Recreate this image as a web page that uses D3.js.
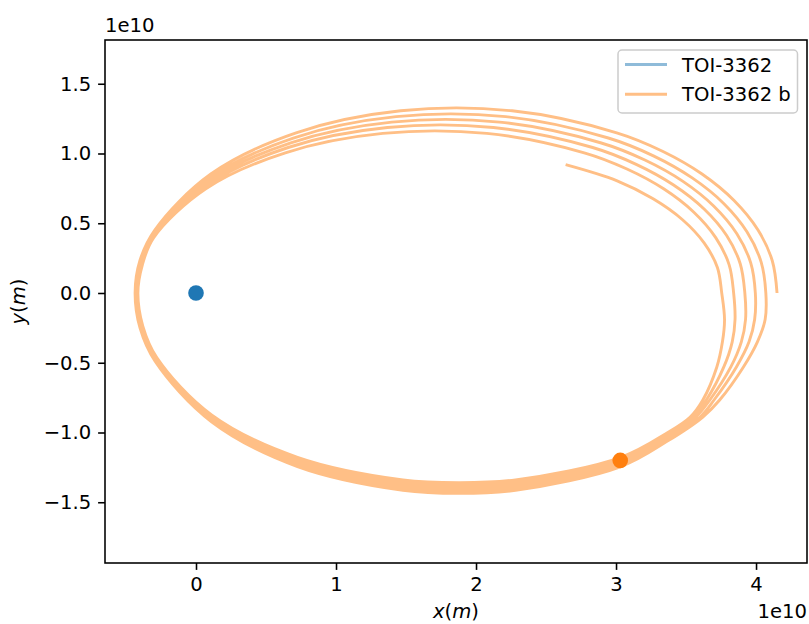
<!DOCTYPE html>
<html>
<head>
<meta charset="utf-8">
<script src="https://cdn.jsdelivr.net/npm/d3@7"></script>
<style>
  body { margin: 0; background: #ffffff; }
  svg { display: block; }
  text { font-family: "DejaVu Sans", sans-serif; }
</style>
</head>
<body>
<svg id="chart" width="809" height="624"></svg>
<script>
// ---- data (units of 1e10 m) ----
const xTicks = [0, 1, 2, 3, 4];
const yTicks = [-1.5, -1.0, -0.5, 0.0, 0.5, 1.0, 1.5];
const seriesNames = ["TOI-3362", "TOI-3362 b"];

const starPos = [0, 0];
const planetPos = [3.03, -1.2];

// trajectory of TOI-3362 b, traced arc by arc
const upper0 = [[4.15,0],[4.116,0.231],[4.013,0.453],[3.843,0.663],[3.614,0.853],[3.332,1.016],[3.005,1.148],[2.258,1.306],[1.462,1.306],[0.715,1.148],[0.106,0.853],[-0.293,0.453],[-0.401,0.231],[-0.435,0]];
const lower0 = [[-0.40,-0.25],[-0.291,-0.491],[0.111,-0.923],[0.725,-1.244],[1.478,-1.414],[1.88,-1.436],[2.282,-1.414],[3.035,-1.244],[3.37,-1.06],[3.62,-0.889],[3.74,-0.767],[3.91,-0.53],[4.01,-0.35],[4.065,-0.19]];
const upper1 = [[4.07,0],[4.036,0.223],[3.935,0.439],[3.769,0.642],[3.544,0.825],[3.267,0.983],[2.945,1.111],[2.212,1.264],[1.429,1.264],[0.695,1.111],[0.097,0.825],[-0.295,0.439],[-0.396,0.223],[-0.43,0]];
const lower1 = [[-0.395,-0.247],[-0.291,-0.485],[0.111,-0.911],[0.725,-1.227],[1.478,-1.396],[1.88,-1.417],[2.282,-1.396],[3.035,-1.227],[3.37,-1.045],[3.60,-0.889],[3.70,-0.767],[3.86,-0.53],[3.95,-0.35],[3.99,-0.19]];
const upper2 = [[3.995,0],[3.962,0.216],[3.863,0.425],[3.699,0.622],[3.478,0.8],[3.206,0.953],[2.889,1.077],[2.168,1.225],[1.398,1.225],[0.677,1.077],[0.088,0.8],[-0.298,0.425],[-0.393,0.216],[-0.425,0]];
const lower2 = [[-0.39,-0.243],[-0.287,-0.478],[0.111,-0.899],[0.725,-1.211],[1.478,-1.377],[1.88,-1.398],[2.282,-1.377],[3.035,-1.211],[3.37,-1.03],[3.57,-0.889],[3.67,-0.767],[3.82,-0.53],[3.895,-0.35],[3.925,-0.19]];
const upper3 = [[3.92,0],[3.887,0.21],[3.79,0.412],[3.629,0.602],[3.411,0.774],[3.144,0.922],[2.833,1.043],[2.124,1.186],[1.367,1.186],[0.658,1.043],[0.079,0.774],[-0.30,0.412],[-0.388,0.21],[-0.42,0]];
const lower3 = [[-0.385,-0.24],[-0.283,-0.472],[0.111,-0.887],[0.725,-1.194],[1.478,-1.358],[1.88,-1.379],[2.282,-1.358],[3.035,-1.194],[3.37,-1.015],[3.55,-0.889],[3.645,-0.767],[3.77,-0.53],[3.83,-0.35],[3.85,-0.19]];
const upper4 = [[3.84,0],[3.808,0.202],[3.712,0.397],[3.554,0.581],[3.34,0.747],[3.078,0.889],[2.773,1.005],[2.077,1.144],[1.334,1.144],[0.638,1.005],[0.07,0.747],[-0.302,0.397],[-0.383,0.202],[-0.415,0]];
const lower4 = [[-0.38,-0.237],[-0.279,-0.465],[0.111,-0.874],[0.725,-1.178],[1.478,-1.34],[1.88,-1.36],[2.282,-1.34],[3.035,-1.178],[3.37,-1.0],[3.53,-0.889],[3.62,-0.767],[3.72,-0.53],[3.76,-0.35],[3.775,-0.19]];
const upper5 = [[3.755,0],[3.724,0.183],[3.629,0.359],[3.475,0.525],[3.265,0.675],[3.008,0.804],[2.64,0.92]];

const planetTrack = [].concat(upper0, lower0, upper1, lower1, upper2, lower2, upper3, lower3, upper4, lower4, upper5);

// ---- drawing ----
const FS = 19.6;
const plot = { left: 105, right: 807, top: 40, bottom: 563 };
const svg = d3.select("#chart");

const x = d3.scaleLinear().domain([-0.65, 4.364]).range([plot.left, plot.right]);
const y = d3.scaleLinear().domain([-1.9355, 1.8136]).range([plot.bottom, plot.top]);

svg.append("defs").append("clipPath").attr("id", "clip")
  .append("rect").attr("x", plot.left).attr("y", plot.top)
  .attr("width", plot.right - plot.left).attr("height", plot.bottom - plot.top);

const content = svg.append("g").attr("clip-path", "url(#clip)");

const line = d3.line().x(d => x(d[0])).y(d => y(d[1])).curve(d3.curveCatmullRom.alpha(0.5));

// star "track" (a single point, invisible line)
content.append("path").datum([starPos, starPos]).attr("d", line)
  .attr("fill", "none").attr("stroke", "#8fbbd9").attr("stroke-width", 2.9);

content.append("path").datum(planetTrack).attr("d", line)
  .attr("fill", "none").attr("stroke", "#ffbf86").attr("stroke-width", 2.9)
  .attr("stroke-linejoin", "round").attr("stroke-linecap", "butt");

content.append("circle").attr("cx", x(starPos[0])).attr("cy", y(starPos[1])).attr("r", 7.8).attr("fill", "#1f77b4");
content.append("circle").attr("cx", x(planetPos[0])).attr("cy", y(planetPos[1])).attr("r", 7.8).attr("fill", "#ff7f0e");

// axes
const xAxis = d3.axisBottom(x).tickValues(xTicks).tickFormat(d3.format("d"))
  .tickSize(6.9).tickPadding(6.9).tickSizeOuter(0);
const yAxis = d3.axisLeft(y).tickValues(yTicks).tickFormat(d3.format(".1f"))
  .tickSize(6.9).tickPadding(6.9).tickSizeOuter(0);

const gx = svg.append("g").attr("transform", `translate(0,${plot.bottom})`).call(xAxis);
const gy = svg.append("g").attr("transform", `translate(${plot.left},0)`).call(yAxis);
[gx, gy].forEach(g => {
  g.select(".domain").remove();
  g.selectAll(".tick line").attr("stroke", "#000").attr("stroke-width", 1.57);
  g.selectAll(".tick text").attr("fill", "#000").style("font-size", FS + "px")
    .style("font-family", "'DejaVu Sans', sans-serif");
});

// spines
svg.append("rect").attr("x", plot.left).attr("y", plot.top)
  .attr("width", plot.right - plot.left).attr("height", plot.bottom - plot.top)
  .attr("fill", "none").attr("stroke", "#000").attr("stroke-width", 1.57);

// offset texts
svg.append("text").attr("x", plot.left).attr("y", 32).style("font-size", FS + "px").text("1e10");
svg.append("text").attr("x", plot.right).attr("y", 618).attr("text-anchor", "end").style("font-size", FS + "px").text("1e10");

// axis labels (mathtext style)
const xl = svg.append("text").attr("x", (plot.left + plot.right) / 2).attr("y", 618)
  .attr("text-anchor", "middle").style("font-size", FS + "px");
xl.append("tspan").style("font-style", "italic").text("x");
xl.append("tspan").text("(");
xl.append("tspan").style("font-style", "italic").text("m");
xl.append("tspan").text(")");

const yl = svg.append("text")
  .attr("transform", `translate(25,${(plot.top + plot.bottom) / 2}) rotate(-90)`)
  .attr("text-anchor", "middle").style("font-size", FS + "px");
yl.append("tspan").style("font-style", "italic").text("y");
yl.append("tspan").text("(");
yl.append("tspan").style("font-style", "italic").text("m");
yl.append("tspan").text(")");

// legend
const leg = svg.append("g");
leg.append("rect").attr("x", 618).attr("y", 50).attr("width", 179.5).attr("height", 63)
  .attr("rx", 4).attr("fill", "#fff").attr("fill-opacity", 0.8)
  .attr("stroke", "#cccccc").attr("stroke-width", 1.5);
const legColors = ["#8fbbd9", "#ffbf86"];
seriesNames.forEach((name, i) => {
  const cy = 64.5 + i * 29.7;
  leg.append("line").attr("x1", 625).attr("x2", 667).attr("y1", cy).attr("y2", cy)
    .attr("stroke", legColors[i]).attr("stroke-width", 2.9);
  leg.append("text").attr("x", 682).attr("y", cy + 7).style("font-size", FS + "px").attr("fill", "#000").text(name);
});
</script>
</body>
</html>
